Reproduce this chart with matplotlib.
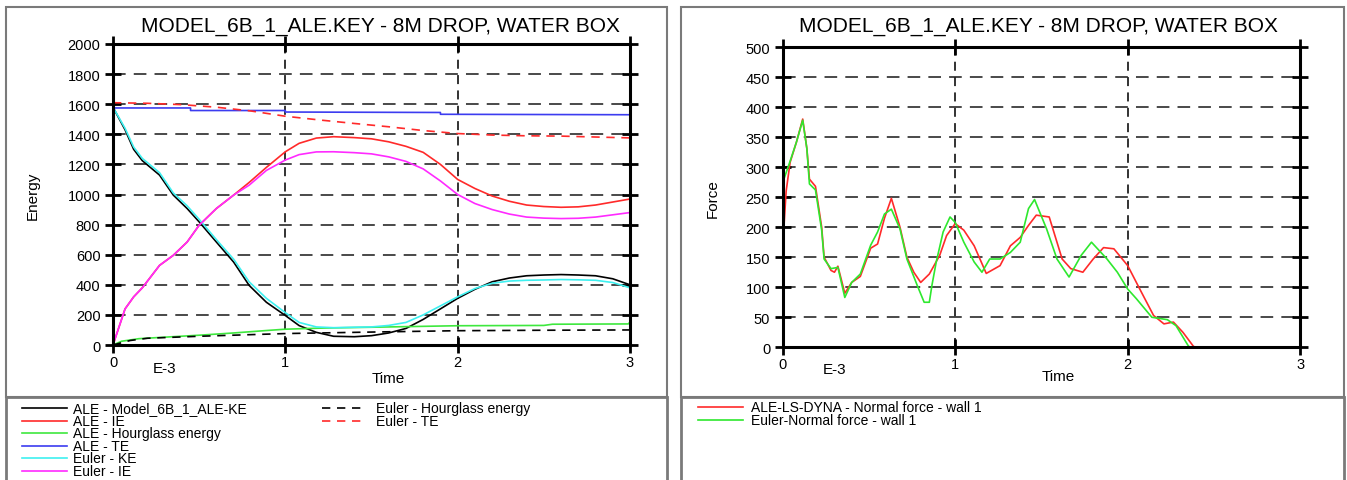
import matplotlib
matplotlib.use("Agg")
import matplotlib.pyplot as plt
from matplotlib.lines import Line2D
from matplotlib.patches import Rectangle

plt.rcParams["font.family"] = ["Liberation Sans", "DejaVu Sans"]

TITLE = "MODEL_6B_1_ALE.KEY - 8M DROP, WATER BOX"

# ---- energy panel (time in E-3 s) ----
t_energy = [0, 0.07, 0.12, 0.17, 0.27, 0.35, 0.43, 0.5, 0.6, 0.7, 0.79, 0.89, 1.0,
            1.08, 1.18, 1.28, 1.4, 1.5, 1.6, 1.7, 1.8, 1.9, 2.0, 2.1, 2.2, 2.3,
            2.4, 2.5, 2.6, 2.7, 2.8, 2.9, 3.0]
ale_ke = [1580, 1430, 1300, 1225, 1129, 996, 907, 818, 684, 551, 396, 284, 196,
          129, 84, 58, 55, 62, 80, 110, 170, 240, 310, 370, 420, 445,
          460, 465, 468, 465, 460, 440, 400]
euler_ke = [1580, 1440, 1315, 1240, 1145, 1010, 925, 835, 700, 570, 420, 310, 215,
            150, 120, 115, 118, 120, 130, 150, 200, 260, 320, 375, 410, 425,
            430, 432, 435, 433, 430, 415, 380]
ale_ie = [0, 240, 320, 380, 529, 596, 684, 796, 907, 996, 1080, 1180, 1284,
          1340, 1375, 1384, 1378, 1370, 1350, 1320, 1280, 1200, 1100, 1040, 990, 955,
          930, 920, 915, 918, 930, 950, 970]
euler_ie = [0, 240, 320, 380, 529, 596, 684, 796, 907, 996, 1062, 1160, 1229,
            1265, 1283, 1284, 1278, 1270, 1250, 1220, 1170, 1090, 1000, 940, 900, 870,
            850, 843, 840, 842, 850, 865, 880]

t_ale_te = [0, 0.45, 0.45, 1.0, 1.0, 1.9, 1.9, 3.0]
ale_te = [1575, 1575, 1558, 1558, 1548, 1545, 1533, 1530]

t_euler_te = [0, 0.2, 0.4, 0.6, 0.8, 1.0, 1.2, 1.4, 1.6, 1.8, 2.0, 2.2, 2.4, 2.6, 2.8, 3.0]
euler_te = [1610, 1606, 1597, 1580, 1555, 1520, 1495, 1472, 1450, 1425, 1405, 1395,
            1390, 1388, 1382, 1376]

t_ale_hg = [0, 0.05, 0.15, 0.3, 0.5, 0.7, 0.9, 1.0, 1.2, 1.5, 2.0, 2.5, 2.55, 2.99, 3.0]
ale_hg = [0, 25, 42, 52, 65, 80, 97, 105, 112, 118, 128, 130, 138, 140, 152]

t_euler_hg = [0, 0.1, 0.2, 0.5, 1.0, 1.5, 2.0, 2.5, 3.0]
euler_hg = [0, 30, 45, 58, 76, 86, 95, 98, 100]

# ---- force panel ----
t_ale_f = [0, 0.001, 0.02, 0.043, 0.08, 0.116, 0.14, 0.155, 0.19, 0.226, 0.24, 0.28,
           0.30, 0.32, 0.36, 0.40, 0.45, 0.51, 0.55, 0.59, 0.63, 0.68, 0.72, 0.76,
           0.80, 0.85, 0.91, 0.95, 1.0, 1.05, 1.11, 1.18, 1.26, 1.32, 1.377, 1.425,
           1.47, 1.545, 1.62, 1.67, 1.74, 1.80, 1.86, 1.92, 2.0, 2.07, 2.15, 2.21,
           2.265, 2.32, 2.38, 2.39, 3.0]
ale_f = [0, 172, 260, 308, 342, 380, 331, 280, 268, 200, 150, 128,
         125, 135, 90, 108, 118, 165, 172, 215, 248, 200, 150, 125,
         108, 122, 153, 186, 206, 195, 169, 123, 136, 169, 183, 203,
         220, 217, 147, 131, 125, 147, 166, 164, 136, 97, 53, 39,
         42, 25, 2, 0, 0]
t_euler_f = [0, 0.001, 0.043, 0.08, 0.116, 0.14, 0.155, 0.19, 0.226, 0.24, 0.28, 0.32,
             0.36, 0.40, 0.45, 0.51, 0.55, 0.59, 0.63, 0.68, 0.72, 0.78, 0.82, 0.85,
             0.865, 0.89, 0.93, 0.97, 1.0, 1.05, 1.11, 1.155, 1.20, 1.26, 1.32, 1.377,
             1.425, 1.46, 1.53, 1.59, 1.66, 1.73, 1.79, 1.88, 1.94, 2.0, 2.05, 2.14,
             2.23, 2.28, 2.35, 2.36, 3.0]
euler_f = [0, 275, 310, 342, 378, 331, 272, 262, 195, 147, 131, 133,
           83, 108, 122, 170, 192, 222, 230, 197, 147, 103, 75, 75,
           103, 142, 192, 217, 208, 175, 142, 125, 147, 147, 158, 175,
           231, 246, 197, 147, 117, 153, 175, 147, 125, 97, 81, 50,
           46, 36, 3, 0, 0]

energy_series = [
    ("ALE - Model_6B_1_ALE-KE", t_energy, ale_ke, "#000000", "-"),
    ("ALE - IE", t_energy, ale_ie, "#ff2a2a", "-"),
    ("ALE - Hourglass energy", t_ale_hg, ale_hg, "#3ee83e", "-"),
    ("ALE - TE", t_ale_te, ale_te, "#3c3cf0", "-"),
    ("Euler - KE", t_energy, euler_ke, "#3ef0f0", "-"),
    ("Euler - IE", t_energy, euler_ie, "#ff2aff", "-"),
    ("Euler - Hourglass energy", t_euler_hg, euler_hg, "#000000", (0, (5, 4))),
    ("Euler - TE", t_euler_te, euler_te, "#ff2a2a", (0, (5, 4))),
]
force_series = [
    ("ALE-LS-DYNA - Normal force - wall 1", t_ale_f, ale_f, "#ff2a2a", "-"),
    ("Euler-Normal force - wall 1", t_euler_f, euler_f, "#2ee82e", "-"),
]

W, H = 1347, 481
fig = plt.figure(figsize=(W / 100, H / 100), dpi=100)


def fx(px):
    return px / W


def fy(py):
    return 1 - py / H


def style_axes(ax, ymax, ystep, ylabel, label_x, e3_y, time_y):
    ax.set_xlim(0, 3)
    ax.set_ylim(0, ymax)
    ax.set_xticks([0, 1, 2, 3])
    ax.set_yticks(range(0, ymax + 1, ystep))
    for s in ax.spines.values():
        s.set_linewidth(2.2)
    ax.tick_params(direction="inout", length=12, width=2, right=True, top=True,
                   labelsize=10.5, pad=3)
    ax.tick_params(axis="x", pad=1)
    for v in range(ystep, ymax, ystep):
        ax.axhline(v, color="#3a3a3a", lw=1.3, linestyle=(0, (7, 4.5)), zorder=0)
    for v in [1, 2]:
        ax.axvline(v, color="#222222", lw=1.3, linestyle=(0, (5, 3.5)), zorder=0)
    ax.set_ylabel(ylabel, fontsize=11)
    ax.yaxis.set_label_coords(label_x, 0.5)
    tr = ax.get_xaxis_transform()
    ax.text(0.30, e3_y, "E-3", transform=tr, ha="center", va="center", fontsize=11)
    ax.text(1.6, time_y, "Time", transform=tr, ha="center", va="center", fontsize=11)


def frame(x0, y0, x1, y_split, y1):
    fig.add_artist(Rectangle((fx(x0), fy(y_split)), fx(x1 - x0), (y_split - y0) / H,
                             transform=fig.transFigure, fill=False, ec="#7a7a7a", lw=1.5))
    fig.add_artist(Rectangle((fx(x0), fy(y1)), fx(x1 - x0), (y1 - y_split) / H,
                             transform=fig.transFigure, fill=False, ec="#7a7a7a", lw=2))


frame(6, 8, 667, 398, 490)
frame(681, 8, 1344, 398, 490)

# Energy
ax1 = fig.add_axes([fx(113), fy(346), fx(517), 301 / H])
for label, t, v, c, ls in energy_series:
    ax1.plot(t, v, color=c, lw=1.2, linestyle=ls, label=label)
style_axes(ax1, 2000, 200, "Energy", -0.141, -0.075, -0.108)
fig.text(fx(380), fy(27), TITLE, ha="center", va="center", fontsize=15)

# Force
ax2 = fig.add_axes([fx(782.7), fy(348.3), fx(517.5), 300.3 / H])
for label, t, v, c, ls in force_series:
    ax2.plot(t, v, color=c, lw=1.2, linestyle=ls, label=label)
style_axes(ax2, 500, 50, "Force", -0.121, -0.072, -0.096)
fig.text(fx(1038), fy(27), TITLE, ha="center", va="center", fontsize=15)

# legends drawn as plain rows beneath each panel
step = 12.6
rows1 = [(22, 73, 409 + step * i) for i in range(6)] + [(322, 376, 409), (322, 376, 409 + step)]
for (label, _, _, c, ls), (hx, tx, ry) in zip(energy_series, rows1):
    fig.add_artist(Line2D([fx(hx), fx(hx + 45)], [fy(ry), fy(ry)], color=c, lw=1.2,
                          linestyle=ls, transform=fig.transFigure))
    fig.text(fx(tx), fy(ry), label, ha="left", va="center", fontsize=10)

for i, (label, _, _, c, ls) in enumerate(force_series):
    ry = 408 + step * i
    fig.add_artist(Line2D([fx(698), fx(743)], [fy(ry), fy(ry)], color=c, lw=1.2,
                          linestyle=ls, transform=fig.transFigure))
    fig.text(fx(751), fy(ry), label, ha="left", va="center", fontsize=10)

fig.savefig("out.png", dpi=100)
